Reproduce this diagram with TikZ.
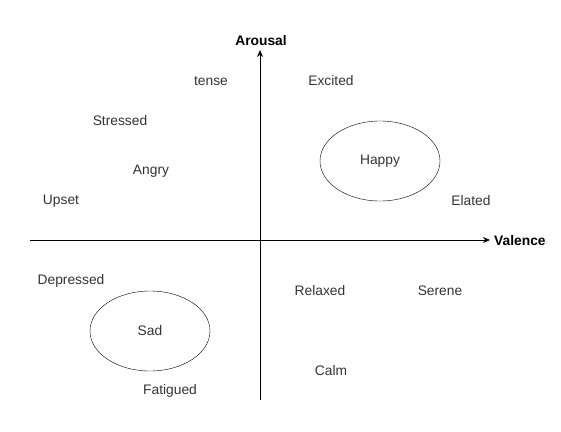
\documentclass[tikz,border=0pt]{standalone}
\usepackage{fontspec}
\setmainfont{Liberation Sans}
\usetikzlibrary{arrows.meta,shapes.geometric}
\definecolor{txt}{HTML}{333333}
\begin{document}
\begin{tikzpicture}[x=1pt,y=-1pt,
  lbl/.style={font=\fontsize{13.8}{16}\selectfont, text=txt, inner sep=0pt},
  axlbl/.style={font=\fontsize{13.8}{16}\selectfont\bfseries, inner sep=0pt},
  emo/.style={draw, ellipse, minimum width=120pt, minimum height=80pt, inner sep=0pt, font=\fontsize{13.8}{16}\selectfont, text=txt},
  axis/.style={line width=0.8pt, -{Stealth[length=7pt,width=6pt]}}]
\useasboundingbox (0,0) rectangle (561,431);
\coordinate (xs) at (30,240);
\coordinate (xe) at (490,240);
\coordinate (ys) at (260,400);
\coordinate (ye) at (260,50);
\draw[axis] (xs) -- (xe);
\draw[axis] (ys) -- (ye);
\node[axlbl] (ar) at (261,41) {Arousal};
\node[axlbl, anchor=west] (va) at (494,241) {Valence};
\node[emo] (happy) at (380,161) {Happy};
\node[emo] (sad) at (150,331) {Sad};
\node[lbl] (tense) at (211,81) {tense};
\node[lbl] (excited) at (331,81) {Excited};
\node[lbl] (stressed) at (120,121) {Stressed};
\node[lbl] (angry) at (151,171) {Angry};
\node[lbl] (upset) at (61,201) {Upset};
\node[lbl] (elated) at (471,201) {Elated};
\node[lbl] (depressed) at (71,281) {Depressed};
\node[lbl] (relaxed) at (320,291) {Relaxed};
\node[lbl] (serene) at (440,291) {Serene};
\node[lbl] (calm) at (331,371) {Calm};
\node[lbl] (fatigued) at (170,391) {Fatigued};
\end{tikzpicture}
\end{document}
